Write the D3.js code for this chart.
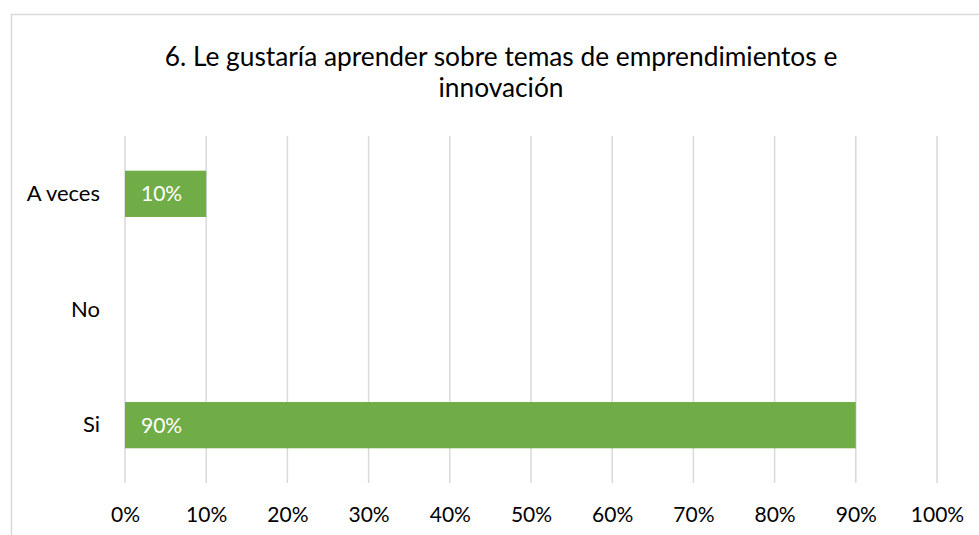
<!DOCTYPE html>
<html>
<head>
<meta charset="utf-8">
<script src="https://cdn.jsdelivr.net/npm/d3@7"></script>
<style>
  body { margin: 0; background: #fff; }
  svg { display: block; font-family: Lato, "Open Sans", sans-serif; }
</style>
</head>
<body>
<svg id="chart"></svg>
<script>
// Chart data
const categories = ["A veces", "No", "Si"];
const values = [0.10, 0, 0.90];
const labels = ["10%", "", "90%"];
const tickValues = [0, 0.1, 0.2, 0.3, 0.4, 0.5, 0.6, 0.7, 0.8, 0.9, 1.0];
const titleLines = ["6. Le gustaría aprender sobre temas de emprendimientos e", "innovación"];

// Chart attributes
const chartAttr = {
    width: 979,
    height: 535,
    left: 125,
    right: 937,
    top: 136,
    bottom: 483
};

const svg = d3.select("#chart")
    .attr("width", chartAttr.width)
    .attr("height", chartAttr.height);

// Chart border (extends past the window on right and bottom)
svg.append("rect")
    .attr("x", 11.5)
    .attr("y", 14.5)
    .attr("width", 990)
    .attr("height", 540)
    .attr("fill", "#fff")
    .attr("stroke", "#d9d9d9")
    .attr("stroke-width", 1.5);

const xScale = d3.scaleLinear()
    .domain([0, 1])
    .range([chartAttr.left, chartAttr.right]);

const yBand = d3.scaleBand()
    .domain(categories)
    .range([chartAttr.top, chartAttr.bottom])
    .paddingInner(0.6)
    .paddingOuter(0.3);

// Gridlines
svg.append("g")
    .selectAll("line")
    .data(tickValues)
    .enter()
    .append("line")
    .attr("x1", d => xScale(d))
    .attr("x2", d => xScale(d))
    .attr("y1", chartAttr.top)
    .attr("y2", chartAttr.bottom)
    .attr("stroke", "#d9d9d9")
    .attr("stroke-width", 1.5);

// X axis labels
const xAxis = d3.axisBottom(xScale)
    .tickValues(tickValues)
    .tickFormat(d3.format(".0%"))
    .tickSize(0)
    .tickPadding(0);

svg.append("g")
    .attr("transform", "translate(0," + 507 + ")")
    .call(xAxis)
    .call(g => g.select(".domain").remove())
    .selectAll("text")
    .attr("font-family", "Lato, sans-serif")
    .attr("font-size", 21)
    .attr("fill", "#000");

// Y axis labels
const yAxis = d3.axisLeft(yBand).tickSize(0).tickPadding(0);

svg.append("g")
    .attr("transform", "translate(100,0)")
    .call(yAxis)
    .call(g => g.select(".domain").remove())
    .selectAll("text")
    .attr("font-family", "Lato, sans-serif")
    .attr("font-size", 22)
    .attr("fill", "#000");

// Bars
svg.append("g")
    .selectAll("rect")
    .data(values)
    .enter()
    .append("rect")
    .attr("x", xScale(0))
    .attr("y", (d, i) => yBand(categories[i]))
    .attr("width", d => xScale(d) - xScale(0))
    .attr("height", yBand.bandwidth())
    .attr("fill", "#70ad47");

// Data labels
svg.append("g")
    .selectAll("text")
    .data(values)
    .enter()
    .append("text")
    .attr("x", xScale(0) + 16)
    .attr("y", (d, i) => yBand(categories[i]) + yBand.bandwidth() / 2)
    .attr("dy", "0.35em")
    .attr("font-size", 21)
    .attr("fill", "#fff")
    .text((d, i) => labels[i]);

// Title
svg.append("text")
    .attr("x", 501)
    .attr("y", 57)
    .attr("text-anchor", "middle")
    .attr("font-size", 26.3)
    .attr("fill", "#000")
    .selectAll("tspan")
    .data(titleLines)
    .enter()
    .append("tspan")
    .attr("x", 501)
    .attr("dy", (d, i) => i === 0 ? "0.35em" : 31)
    .text(d => d);
</script>
</body>
</html>
